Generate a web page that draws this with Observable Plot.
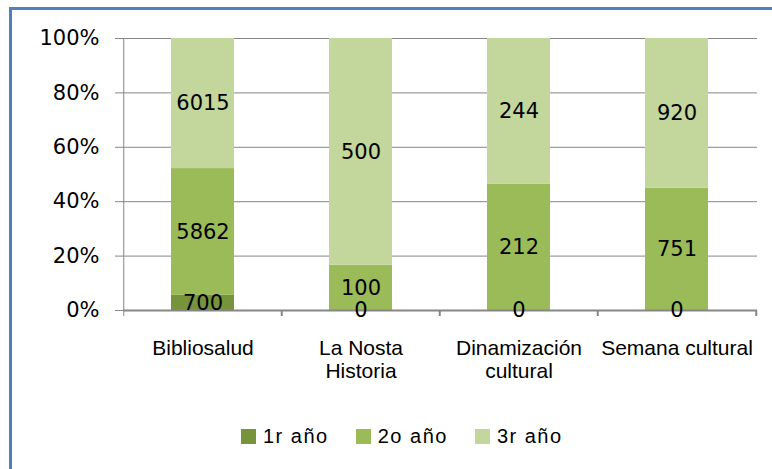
<!DOCTYPE html>
<html><head><meta charset="utf-8">
<script src="https://cdn.jsdelivr.net/npm/d3@7"></script>
<script src="https://cdn.jsdelivr.net/npm/@observablehq/plot@0.6"></script>
<style>
html,body{margin:0;padding:0;background:#fff;overflow:hidden;}
#wrap{position:relative;width:772px;height:469px;overflow:hidden;background:#fff;}
#frame{position:absolute;left:9px;top:7px;width:900px;height:600px;border:3px solid #4F81BD;box-sizing:border-box;}
#chart{position:absolute;left:0;top:0;}
#legend{position:absolute;left:241px;top:426px;display:flex;align-items:center;font-family:"Liberation Sans",Arial,sans-serif;font-size:20px;letter-spacing:1.5px;color:#000;line-height:1;}
.item{display:flex;align-items:center;margin-right:27px;}
.sw{width:15px;height:15px;margin-right:7px;}
</style></head><body>
<div id="wrap"><div id="frame"></div><div id="chart"></div><div id="legend"></div></div>
<script>
const categories = ["Bibliosalud", "La Nosta Historia", "Dinamización cultural", "Semana cultural"];
const categoryLabels = ["Bibliosalud", "La Nosta\nHistoria", "Dinamización\ncultural", "Semana cultural"];
const seriesNames = ["1r año", "2o año", "3r año"];
const values1r = [700, 0, 0, 0];
const values2o = [5862, 100, 212, 751];
const values3r = [6015, 500, 244, 920];
const seriesColors = ["#77933C", "#9BBB59", "#C3D69B"];
const yTicks = [0, 0.2, 0.4, 0.6, 0.8, 1];

const W = 772, H = 469, ML = 123, MR = 15, MT = 38, MB = 159;
const step = (W - ML - MR) / categories.length;
const grid = "#868686";

const seriesValues = [values1r, values2o, values3r];
const data = [];
categories.forEach((c, i) => {
  seriesNames.forEach((s, j) => data.push({cat: c, series: s, value: seriesValues[j][i]}));
});

const chart = Plot.plot({
  width: W, height: H,
  marginLeft: ML, marginRight: MR, marginTop: MT, marginBottom: MB,
  style: {fontFamily: "DejaVu Sans", fontSize: "21px", background: "transparent", color: "#000"},
  x: {domain: categories, paddingInner: 0.6, paddingOuter: 0.3, label: null},
  y: {domain: [0, 1], label: null},
  color: {domain: seriesNames, range: seriesColors},
  marks: [
    Plot.gridY(yTicks, {stroke: grid, strokeOpacity: 1, strokeWidth: 1}),
    Plot.axisY(yTicks, {tickFormat: d => Math.round(d * 100) + "%", tickSize: 8, tickPadding: 16, stroke: grid, fontFamily: "DejaVu Sans", fontSize: 21, label: null}),
    Plot.barY(data, Plot.stackY({offset: "normalize", x: "cat", y: "value", z: "series", fill: "series"})),
    Plot.ruleY([0], {stroke: grid, strokeWidth: 2}),
    Plot.ruleX(categories.slice(0, 1), {x: d => d, dx: -step / 2, y1: 1, y2: 0, insetBottom: -6, stroke: grid, strokeWidth: 1}),
    Plot.ruleX(categories.slice(1), {x: d => d, dx: -step / 2, y1: 0, y2: 0, insetBottom: -6, stroke: grid, strokeWidth: 2}),
    Plot.ruleX(categories.slice(-1), {x: d => d, dx: step / 2, y1: 0, y2: 0, insetBottom: -6, stroke: grid, strokeWidth: 2}),
    Plot.axisX({tickSize: 0, tickPadding: 27, tickFormat: d => categoryLabels[categories.indexOf(d)], fontFamily: "Liberation Sans", fontSize: 21, lineHeight: 1.14, label: null}),
    Plot.text(data, Plot.stackY({offset: "normalize", x: "cat", y: "value", z: "series", text: d => String(d.value), fill: "#000", fontFamily: "DejaVu Sans", fontSize: 21}))
  ]
});
document.getElementById("chart").appendChild(chart);

const legend = document.getElementById("legend");
seriesNames.forEach((s, i) => {
  const item = document.createElement("div");
  item.className = "item";
  const sw = document.createElement("div");
  sw.className = "sw";
  sw.style.background = seriesColors[i];
  const t = document.createElement("span");
  t.textContent = s;
  item.appendChild(sw); item.appendChild(t);
  legend.appendChild(item);
});
</script>
</body></html>
